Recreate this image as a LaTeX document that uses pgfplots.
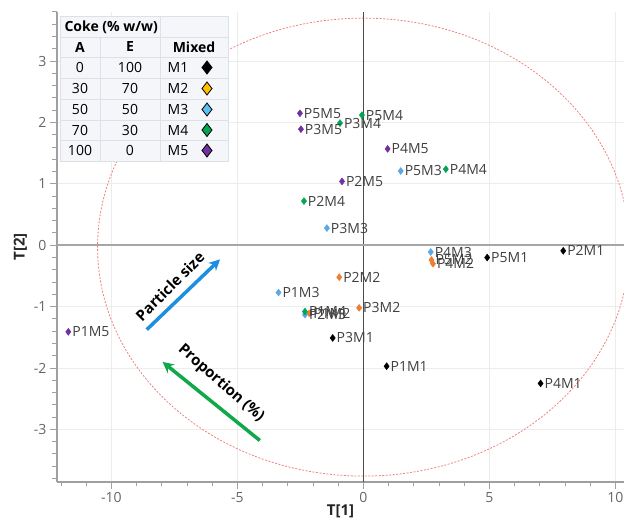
\documentclass[border=0pt]{standalone}
\usepackage{fontspec}
\setmainfont{Open Sans}
\usepackage{pgfplots}
\usepackage{pgfplotstable}
\pgfplotsset{compat=1.18}
\usetikzlibrary{arrows.meta}

\definecolor{cMone}{HTML}{000000}
\definecolor{cMtwo}{HTML}{ED7D31}
\definecolor{cMthree}{HTML}{5BA8E6}
\definecolor{cMfour}{HTML}{00A651}
\definecolor{cMfive}{HTML}{7030A0}
\definecolor{legtwo}{HTML}{FFC000}
\definecolor{legthree}{HTML}{5BC0F0}
\definecolor{labgray}{HTML}{404040}
\definecolor{arrblue}{HTML}{1E8FE0}
\definecolor{arrgreen}{HTML}{10A848}
\definecolor{ellred}{HTML}{F08080}
\definecolor{tabbg}{HTML}{F4F6F9}
\definecolor{tabline}{HTML}{DCE1E8}

% scores, one table per mix
\pgfplotstableread{
x y label
0.92 -1.97 P1M1
7.93 -0.09 P2M1
-1.22 -1.51 P3M1
7.03 -2.25 P4M1
4.91 -0.20 P5M1
}\mone
\pgfplotstableread{
x y label
-2.15 -1.11 P1M2
-0.96 -0.52 P2M2
-0.17 -1.02 P3M2
2.76 -0.30 P4M2
2.70 -0.24 P5M2
}\mtwo
\pgfplotstableread{
x y label
-3.37 -0.77 P1M3
-2.32 -1.13 P2M3
-1.45 0.28 P3M3
2.67 -0.11 P4M3
1.48 1.21 P5M3
}\mthree
\pgfplotstableread{
x y label
-2.32 -1.08 P1M4
-2.36 0.72 P2M4
-0.93 1.99 P3M4
3.27 1.24 P4M4
-0.06 2.12 P5M4
}\mfour
\pgfplotstableread{
x y label
-11.71 -1.41 P1M5
-0.85 1.04 P2M5
-2.48 1.89 P3M5
0.96 1.57 P4M5
-2.52 2.15 P5M5
}\mfive

\begin{document}
\begin{tikzpicture}
\begin{axis}[
  at={(57pt,-481.6pt)}, anchor=south west,
  width=567pt, height=469.6pt, scale only axis,
  xmin=-12.16, xmax=10.34, ymin=-3.85, ymax=3.8,
  axis lines=left,
  axis line style={-, draw=gray!75, line width=2pt},
  xtick={-10,-5,0,5,10}, ytick={-3,-2,-1,0,1,2,3},
  minor xtick={-12,-11,...,10},
  minor ytick={-3.8,-3.6,...,3.8},
  tick align=outside, major tick length=7pt, minor tick length=4.5pt,
  major tick style={gray!75, line width=1pt},
  minor tick style={gray!75, line width=1pt},
  grid=major, major grid style={gray!15, line width=0.8pt},
  minor grid style={draw=none},
  ticklabel style={font=\fontsize{14}{16}\selectfont, text=gray!80!black},
  /pgf/number format/assume math mode=true,
  xlabel={T[1]}, ylabel={T[2]},
  label style={font=\bfseries\fontsize{15}{17}\selectfont, text=black!85},
  xlabel style={yshift=5pt},
  clip=false,
  nodes near coords, point meta=explicit symbolic,
  every node near coord/.style={anchor=west, xshift=0.5pt,
    font=\fontsize{14}{16}\selectfont, text=labgray},
]
\draw[ellred, line width=0.8pt, dash pattern=on 2pt off 1.5pt]
  (axis cs:0,-0.03) ellipse [x radius=10.55, y radius=3.73];
\draw[gray!60!black, line width=1.2pt] (axis cs:0,-3.85) -- (axis cs:0,3.8);
\draw[gray!70, line width=2pt] (axis cs:-12.16,0) -- (axis cs:10.34,0);

\addplot[only marks, mark=diamond*, mark size=3.5pt, color=cMone] table[x=x, y=y, meta=label] {\mone};
\addplot[only marks, mark=diamond*, mark size=3.5pt, color=cMtwo] table[x=x, y=y, meta=label] {\mtwo};
\addplot[only marks, mark=diamond*, mark size=3.5pt, color=cMthree] table[x=x, y=y, meta=label] {\mthree};
\addplot[only marks, mark=diamond*, mark size=3.5pt, color=cMfour] table[x=x, y=y, meta=label] {\mfour};
\addplot[only marks, mark=diamond*, mark size=3.5pt, color=cMfive] table[x=x, y=y, meta=label] {\mfive};

% direction arrows
\draw[-{Stealth[length=11pt, width=11pt]}, arrblue, line width=3.5pt]
  (axis cs:-8.60,-1.375) -- (axis cs:-5.69,-0.23);
\draw[-{Stealth[length=11pt, width=11pt]}, arrgreen, line width=3.5pt]
  (axis cs:-4.11,-3.18) -- (axis cs:-7.97,-1.90);
\node[rotate=45, font=\bfseries\fontsize{15}{17}\selectfont] at (axis cs:-7.68,-0.67) {Particle size};
\node[rotate=-41, font=\bfseries\fontsize{15}{17}\selectfont] at (axis cs:-5.65,-2.25) {Proportion (\%)};
\end{axis}

% legend table, pixel coordinates
\begin{scope}[x=1pt, y=-1pt, font=\fontsize{14}{16}\selectfont]
\fill[tabbg] (60,16) rectangle (228,161);
\foreach \yy in {37,57,78,99,120,140} \draw[tabline, line width=1pt] (60,\yy) -- (228,\yy);
\draw[tabline, line width=1pt] (100,37) -- (100,161);
\draw[tabline, line width=1pt] (160,16) -- (160,161);
\draw[tabline, line width=1pt] (60,16) rectangle (228,161);
\node[anchor=west, font=\bfseries\fontsize{14}{16}\selectfont] at (61,27) {Coke (\% w/w)};
\node[font=\bfseries\fontsize{14}{16}\selectfont] at (80,47) {A};
\node[font=\bfseries\fontsize{14}{16}\selectfont] at (130,47) {E};
\node[font=\bfseries\fontsize{14}{16}\selectfont] at (194,47) {Mixed};
\foreach \a/\e/\m/\c/\yy in {0/100/M1/black/67.5, 30/70/M2/legtwo/88.5,
    50/50/M3/legthree/109.5, 70/30/M4/cMfour/130, 100/0/M5/cMfive/150.5} {
  \node at (80,\yy) {\a};
  \node at (130,\yy) {\e};
  \node at (178,\yy) {\m};
  \draw[fill=\c, draw=black, line width=0.8pt]
    (207,\yy-6.5) -- (212,\yy) -- (207,\yy+6.5) -- (202,\yy) -- cycle;
}
\pgfresetboundingbox
\path[use as bounding box] (0,0) rectangle (624,522);
\end{scope}
\end{tikzpicture}
\end{document}
